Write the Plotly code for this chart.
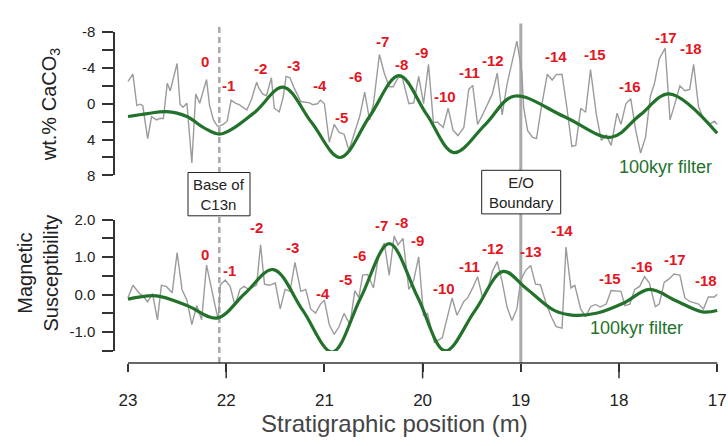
import plotly.graph_objects as go

# ---------------- data ----------------
# Top panel: wt.% CaCO3 (reversed axis)
caco3_pos = [23.00, 22.95, 22.91, 22.88, 22.85, 22.80, 22.76, 22.71, 22.68, 22.64,
             22.60, 22.57, 22.50, 22.47, 22.44, 22.40, 22.35, 22.31, 22.27, 22.20,
             22.17, 22.13, 22.09, 22.07, 22.03, 21.99, 21.95, 21.91, 21.86, 21.82,
             21.79, 21.74, 21.69, 21.67, 21.63, 21.59, 21.54, 21.51, 21.46, 21.42,
             21.39, 21.35, 21.31, 21.24, 21.20, 21.15, 21.12, 21.07, 21.04, 21.00,
             20.95, 20.90, 20.85, 20.80, 20.75, 20.70, 20.64, 20.59, 20.54, 20.50,
             20.44, 20.39, 20.34, 20.30, 20.25, 20.21, 20.14, 20.09, 20.04, 19.99,
             19.94, 19.89, 19.85, 19.79, 19.74, 19.69, 19.64, 19.58, 19.53, 19.49,
             19.44, 19.39, 19.34, 19.29, 19.24, 19.19, 19.14, 19.10, 19.04, 18.99,
             18.97, 18.93, 18.88, 18.84, 18.79, 18.73, 18.68, 18.64, 18.58, 18.53,
             18.48, 18.44, 18.39, 18.34, 18.29, 18.23, 18.18, 18.13, 18.08, 18.02,
             17.98, 17.93, 17.88, 17.83, 17.78, 17.73, 17.68, 17.64, 17.59, 17.53,
             17.48, 17.44, 17.38, 17.33, 17.28, 17.24, 17.19, 17.14, 17.08, 17.03,
             17.00]
caco3_val = [-2.5, -3.3, 0.2, 0.05, 0.2, 3.9, 1.45, 1.8, 1.65, 1.65,
             -2.3, -1.45, -4.5, 0.05, 0.4, -0.05, 6.6, -1.1, -0.05, -2.7,
             0.15, 1.8, 2.5, 2.5, 2.3, 1.95, -0.4, -0.1, 0.15, 0.45,
             0.7, -0.55, -2.4, -1.8, -1.1, -0.9, -2.9, 0.5, 0.9, -0.7,
             -3.05, -2.9, -1.8, -0.25, -0.2, -0.1, 0.1, 0.0, -0.4, 0.0,
             4.3, 2.3, 3.2, 3.4, 5.2, 3.4, 1.4, -1.3, 1.8, 0.0,
             -5.5, -3.4, -1.9, -1.9, -2.9, -3.05, 0.0, -0.1, -3.05, 0.0,
             -4.4, 2.1, 2.05, 2.65, 0.5, 2.95, 3.55, 2.65, -1.6, -2.05,
             2.3, 1.25, 0.0, -1.1, -3.4, 1.25, -2.2, -4.1, -7.0, -3.6,
             0.5, 3.0, 3.75, 3.9, 0.35, -3.3, -2.65, -3.25, -3.3, 0.5,
             4.75, 4.65, 0.5, 0.95, -3.8, 1.25, 4.1, 3.5, 4.65, 1.05,
             2.3, 0.0, -0.55, 2.95, 5.5, 3.75, -0.9, -2.2, -5.0, -6.2,
             1.8, 0.35, -2.0, -1.45, -1.6, -4.4, 0.35, 1.65, 2.3, 1.95,
             2.3]

caco3_filt_pos = [23.00, 22.80, 22.61, 22.40, 22.23, 22.06, 21.72, 21.42, 21.13, 20.84,
                  20.54, 20.24, 19.96, 19.68, 19.36, 19.07, 18.56, 18.08, 17.79, 17.49, 17.00]
caco3_filt_val = [1.42, 1.1, 0.88, 1.42, 2.66, 3.38, 1.05, -1.85, 2.1, 6.0,
                  1.42, -3.14, 1.16, 5.45, 2.3, -0.84, 1.42, 3.74, 1.3, -1.10, 3.3]

# Bottom panel: magnetic susceptibility
ms_pos = [23.00, 22.95, 22.89, 22.85, 22.80, 22.75, 22.70, 22.66, 22.61, 22.55,
          22.50, 22.45, 22.40, 22.35, 22.30, 22.25, 22.20, 22.16, 22.11, 22.08,
          22.06, 22.01, 21.96, 21.91, 21.86, 21.82, 21.77, 21.69, 21.65, 21.61,
          21.56, 21.50, 21.45, 21.40, 21.35, 21.30, 21.24, 21.19, 21.14, 21.09,
          21.04, 21.00, 20.95, 20.90, 20.85, 20.80, 20.74, 20.69, 20.65, 20.61,
          20.56, 20.50, 20.45, 20.39, 20.34, 20.29, 20.25, 20.20, 20.14, 20.09,
          20.04, 19.99, 19.95, 19.88, 19.83, 19.80, 19.70, 19.65, 19.58, 19.54,
          19.49, 19.44, 19.39, 19.34, 19.29, 19.24, 19.19, 19.14, 19.09, 19.04,
          19.00, 18.95, 18.90, 18.85, 18.80, 18.74, 18.69, 18.64, 18.58, 18.54,
          18.49, 18.45, 18.39, 18.34, 18.29, 18.24, 18.19, 18.13, 18.08, 18.03,
          17.98, 17.94, 17.89, 17.84, 17.79, 17.74, 17.69, 17.63, 17.59, 17.54,
          17.49, 17.44, 17.38, 17.33, 17.28, 17.24, 17.19, 17.14, 17.09, 17.03,
          17.00]
ms_val = [-0.08, 0.25, 0.05, -0.03, -0.19, 0.03, -0.67, 0.25, 0.22, 0.05,
          1.12, 0.14, -0.15, -0.80, -0.29, -0.67, 0.79, 0.26, -0.33, -0.67,
          0.26, 0.39, 0.22, -0.29, 0.14, 0.22, 0.14, 0.26, 1.33, 0.28,
          0.25, 0.31, -0.38, 0.14, 0.09, 0.86, 0.09, 0.14, -0.38, -0.49,
          -0.25, -0.15, -0.80, -1.06, -0.85, -0.50, -0.80, 0.11, -0.08, 0.52,
          0.54, 0.18, 1.03, 1.38, 0.52, 1.56, 1.33, 1.50, 0.14, 0.39,
          1.01, -0.55, -0.50, -1.27, -1.19, -1.15, -0.09, -0.55, -0.18, -0.08,
          0.18, 0.48, -0.08, 0.09, 0.61, 0.88, 0.35, -0.33, -0.69, -0.38,
          0.39, 0.65, 0.78, 0.28, 0.26, -0.25, -0.59, -0.85, -0.89, 1.27,
          0.18, 0.25, -0.38, -0.59, -0.32, -0.26, -0.33, -0.25, 0.11, 0.11,
          0.09, -0.29, -0.25, 0.14, 0.22, 0.48, 0.31, -0.32, -0.25, 0.33,
          0.42, 0.55, 0.52, -0.08, -0.18, -0.21, -0.25, -0.38, -0.06, -0.06,
          0.01]

ms_filt_pos = [23.00, 22.71, 22.40, 22.09, 21.81, 21.52, 21.22, 20.92, 20.63, 20.34,
               20.05, 19.77, 19.47, 19.18, 18.95, 18.66, 18.46, 18.22, 17.95, 17.69,
               17.42, 17.15, 17.00]
ms_filt_val = [-0.12, -0.03, -0.29, -0.62, 0.03, 0.67, -0.42, -1.53, -0.08, 1.36,
               -0.07, -1.50, -0.44, 0.62, 0.18, -0.42, -0.55, -0.49, -0.22, 0.14,
               -0.16, -0.46, -0.42]

# Cycle labels
caco3_lbl_text = ["0", "-1", "-2", "-3", "-4", "-5", "-6", "-7", "-8", "-9",
                  "-10", "-11", "-12", "-13", "-14", "-15", "-16", "-17", "-18"]
caco3_lbl_pos = [22.22, 21.98, 21.65, 21.31, 21.04, 20.83, 20.68, 20.41, 20.21, 20.01,
                 19.77, 19.52, 19.28, 19.09, 18.64, 18.24, 17.89, 17.52, 17.27]
caco3_lbl_val = [-4.67, -1.99, -3.95, -4.32, -2.06, 1.59, -2.99, -6.9, -4.38, -5.67,
                 -0.84, -3.49, -4.85, -8.72, -5.28, -5.5, -1.91, -7.43, -6.18]

ms_lbl_text = caco3_lbl_text
ms_lbl_pos = [22.22, 21.97, 21.69, 21.32, 21.01, 20.79, 20.64, 20.42, 20.22, 20.05,
              19.78, 19.52, 19.28, 18.90, 18.58, 18.09, 17.77, 17.43, 17.11]
ms_lbl_val = [1.08, 0.65, 1.80, 1.27, 0.03, 0.41, 1.05, 1.85, 1.92, 1.44,
              0.16, 0.76, 1.22, 1.14, 1.72, 0.42, 0.76, 0.93, 0.37]

x_ticks = [23, 22, 21, 20, 19, 18, 17]
caco3_ticks = [-8, -6, -4, -2, 0, 2, 4, 6, 8]
caco3_ticktext = ["-8", " ", "-4", " ", "0", " ", "4", " ", "8"]
ms_ticks = [-1.5, -1.0, -0.5, 0.0, 0.5, 1.0, 1.5, 2.0]
ms_ticktext = [" ", "-1.0", " ", "0.0", " ", "1.0", " ", "2.0"]

c13n_pos = 22.07
eo_pos = 19.0

# ---------------- figure ----------------
W, H = 728, 446
FONT = "Liberation Sans, Arial, Helvetica, sans-serif"
GRAY = "#9b9b9b"
GREEN = "#23722b"
RED = "#e3151e"
AX = "#333333"

def py(p):  # pixel y -> paper
    return (H - p) / H

def px(p):
    return p / W

fig = go.Figure()
fig.add_trace(go.Scatter(x=caco3_pos, y=caco3_val, mode="lines",
                         line=dict(color=GRAY, width=1.4), xaxis="x", yaxis="y",
                         showlegend=False, hoverinfo="skip"))
fig.add_trace(go.Scatter(x=caco3_filt_pos, y=caco3_filt_val, mode="lines",
                         line=dict(color=GREEN, width=3.2, shape="spline", smoothing=1.0),
                         xaxis="x", yaxis="y", showlegend=False, hoverinfo="skip"))
fig.add_trace(go.Scatter(x=ms_pos, y=ms_val, mode="lines",
                         line=dict(color=GRAY, width=1.4), xaxis="x", yaxis="y2",
                         showlegend=False, hoverinfo="skip"))
fig.add_trace(go.Scatter(x=ms_filt_pos, y=ms_filt_val, mode="lines",
                         line=dict(color=GREEN, width=3.2, shape="spline", smoothing=1.0),
                         xaxis="x", yaxis="y2", showlegend=False, hoverinfo="skip"))

ppm = 98.2
x_left = 23 + (128 - 115) / ppm
x_right = 23 - (W - 128) / ppm

annotations = []
for t, xv, yv in zip(caco3_lbl_text, caco3_lbl_pos, caco3_lbl_val):
    annotations.append(dict(x=xv, y=yv, xref="x", yref="y", text="<b>%s</b>" % t,
                            xanchor="center", yanchor="middle",
                            showarrow=False, font=dict(size=15, color=RED, family=FONT)))
for t, xv, yv in zip(ms_lbl_text, ms_lbl_pos, ms_lbl_val):
    annotations.append(dict(x=xv, y=yv, xref="x", yref="y2", text="<b>%s</b>" % t,
                            xanchor="center", yanchor="middle",
                            showarrow=False, font=dict(size=15, color=RED, family=FONT)))

def pann(x, y, text, size, color, angle=0):
    return dict(x=px(x), y=py(y), xref="paper", yref="paper", text=text,
                xanchor="center", yanchor="middle", textangle=angle,
                showarrow=False, font=dict(size=size, color=color, family=FONT))

annotations += [
    pann(665, 164, "100kyr filter", 18, GREEN),
    pann(636.7, 331.7, "100kyr filter", 18, GREEN),
    pann(219, 192.5, "Base of<br>C13n", 15, "#222"),
    pann(521.2, 190.3, "E/O<br>Boundary", 15, "#222"),
    pann(50, 100, "wt.% CaCO<sub>3</sub>", 20, "#222", -90),
    pann(38, 275, "Magnetic<br>Susceptibility", 20, "#222", -90),
    pann(395, 431, "Stratigraphic position (m)", 24, "#444"),
]

shapes = [
    # vertical markers
    dict(type="line", xref="x", yref="paper", x0=c13n_pos, x1=c13n_pos,
         y0=py(368), y1=py(15), layer="below",
         line=dict(color="#a8a8a8", width=2.5, dash="6px,4px")),
    dict(type="line", xref="x", yref="paper", x0=eo_pos, x1=eo_pos,
         y0=py(368), y1=py(15), layer="below",
         line=dict(color="#aaaaaa", width=3)),
    # boxes
    dict(type="rect", xref="paper", yref="paper", x0=px(188), x1=px(250),
         y0=py(215), y1=py(170), fillcolor="white", line=dict(color="#222", width=1),
         layer="above"),
    dict(type="rect", xref="paper", yref="paper", x0=px(481.7), x1=px(560.7),
         y0=py(213), y1=py(167.7), fillcolor="white", line=dict(color="#222", width=1),
         layer="above"),
    # x axis line (spans 23..17 only)
    dict(type="line", xref="x", yref="paper", x0=23, x1=17, y0=py(368), y1=py(368),
         line=dict(color=AX, width=1.5)),
]
for xv in [22, 20, 18]:
    shapes.append(dict(type="line", xref="x", yref="paper", x0=xv, x1=xv,
                       y0=py(368), y1=py(384), line=dict(color=AX, width=1.5)))

fig.update_layout(
    width=W, height=H,
    margin=dict(l=0, r=0, t=0, b=0),
    paper_bgcolor="white", plot_bgcolor="rgba(0,0,0,0)",
    font=dict(family=FONT, color="#222"),
    xaxis=dict(domain=[px(115), 1], range=[x_left, x_right], anchor="free",
               position=py(368), showline=False, showgrid=False, zeroline=False,
               tickmode="array", tickvals=x_ticks, ticks="outside", ticklen=8,
               tickwidth=1.5, tickcolor=AX, tickfont=dict(size=17, color="#222"),
               ticklabelstandoff=14),
    yaxis=dict(domain=[py(173), py(24)], range=[8, -8], anchor="x",
               showline=True, linecolor=AX, linewidth=1.5, showgrid=False,
               zeroline=False, tickmode="array", tickvals=caco3_ticks,
               ticktext=caco3_ticktext, ticks="outside", ticklen=11, tickwidth=1.5,
               tickcolor=AX, tickfont=dict(size=15, color="#222"),
               ticklabelstandoff=4),
    yaxis2=dict(domain=[py(355.5), py(219)], range=[-1.5, 2.0], anchor="x",
                showline=True, linecolor=AX, linewidth=1.5, showgrid=False,
                zeroline=False, tickmode="array", tickvals=ms_ticks,
                ticktext=ms_ticktext, ticks="outside", ticklen=11, tickwidth=1.5,
                tickcolor=AX, tickfont=dict(size=15, color="#222"),
                ticklabelstandoff=4),
    annotations=annotations,
    shapes=shapes,
)

fig.write_html("out.html")
